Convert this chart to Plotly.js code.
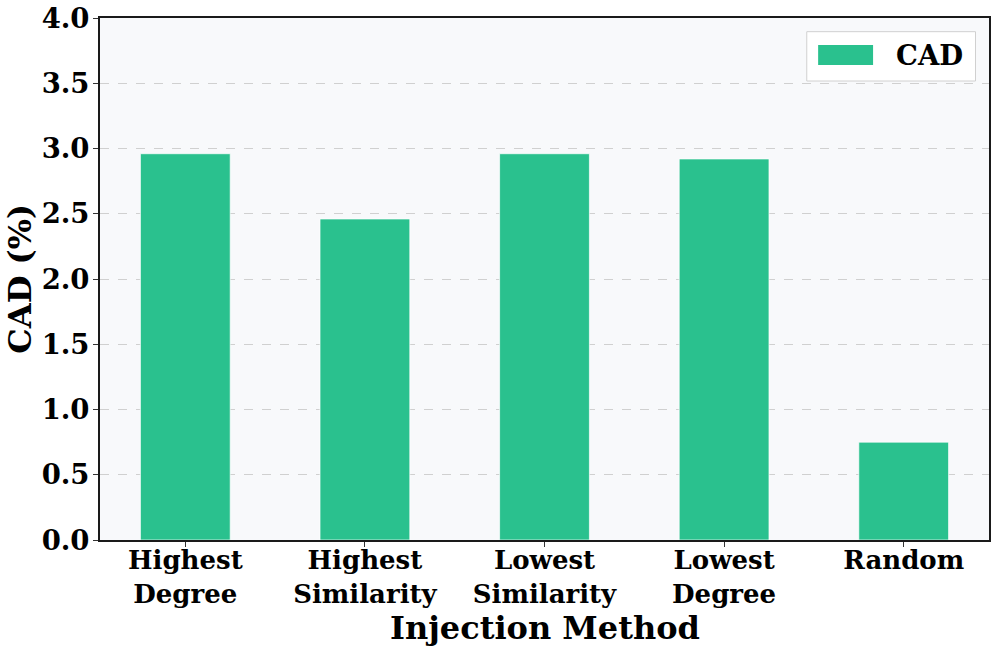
<!DOCTYPE html>
<html>
<head>
<meta charset="utf-8">
<script src="https://cdn.plot.ly/plotly-3.0.1.min.js"></script>
<style>html,body{margin:0;padding:0;background:#fff;}#chart{width:997px;height:651px;}</style>
</head>
<body>
<div id="chart"></div>
<script>
var categories = ["Highest<br>Degree", "Highest<br>Similarity", "Lowest<br>Similarity", "Lowest<br>Degree", "Random"];
var cadValues = [2.96, 2.46, 2.96, 2.92, 0.75];
var seriesName = "CAD";
var yTickVals = [0, 0.5, 1, 1.5, 2, 2.5, 3, 3.5, 4];
var xTitle = "Injection Method";
var yTitle = "CAD (%)";

var FONT = "DejaVu Serif";
var barColor = "#2ac18e";

var trace = {
  type: "bar",
  x: categories,
  y: cadValues,
  name: seriesName,
  width: 0.5,
  marker: {color: barColor, line: {color: "rgba(255,255,255,0.7)", width: 1}},
  showlegend: false,
  hoverinfo: "x+y"
};

var layout = {
  width: 997, height: 651,
  margin: {l: 99.5, r: 8, t: 18, b: 111},
  paper_bgcolor: "#ffffff",
  plot_bgcolor: "#f8f9fb",
  font: {family: FONT, color: "#000", size: 26, weight: "bold"},
  xaxis: {
    range: [-0.475, 4.475],
    showline: true, mirror: true, linecolor: "#1a1a1a", linewidth: 2,
    ticks: "outside", ticklen: 5, tickwidth: 1, tickcolor: "#333",
    showgrid: false, zeroline: false,
    tickfont: {family: FONT, size: 26, weight: "bold", color: "#000"},
    ticklabelstandoff: -9,
    automargin: false
  },
  yaxis: {
    range: [0, 4],
    tickvals: yTickVals, tickformat: ".1f",
    showline: true, mirror: true, linecolor: "#1a1a1a", linewidth: 2,
    ticks: "outside", ticklen: 5, tickwidth: 1, tickcolor: "#333",
    showgrid: true, gridcolor: "#d0d0d0", griddash: "dash", gridwidth: 1,
    zeroline: false,
    tickfont: {family: FONT, size: 27.5, weight: "bold", color: "#000"},
    ticklabelstandoff: -2,
    automargin: false
  },
  shapes: [
    {type: "rect", xref: "paper", yref: "paper", x0: 0.795, x1: 0.9848, y0: 0.8793, y1: 0.9738,
     fillcolor: "#ffffff", line: {color: "#d0d0d0", width: 1}, layer: "above"},
    {type: "rect", xref: "paper", yref: "paper", x0: 0.8078, x1: 0.8696, y0: 0.910, y1: 0.9483,
     fillcolor: barColor, line: {width: 0}, layer: "above"}
  ],
  annotations: [
    {xref: "paper", yref: "paper", x: 0.9336, y: 0.929, text: seriesName, showarrow: false,
     xanchor: "center", yanchor: "middle",
     font: {family: FONT, size: 27.5, weight: "bold", color: "#000"}},
    {xref: "paper", yref: "paper", x: 0.5, y: -0.168, text: xTitle, showarrow: false,
     xanchor: "center", yanchor: "middle",
     font: {family: FONT, size: 32, weight: "bold", color: "#000"}},
    {xref: "paper", yref: "paper", x: -0.0904, y: 0.5, text: yTitle, showarrow: false,
     textangle: -90, xanchor: "center", yanchor: "middle",
     font: {family: FONT, size: 32, weight: "bold", color: "#000"}}
  ],
  bargap: 0.5
};

Plotly.newPlot("chart", [trace], layout, {displayModeBar: false, staticPlot: true});
</script>
</body>
</html>
